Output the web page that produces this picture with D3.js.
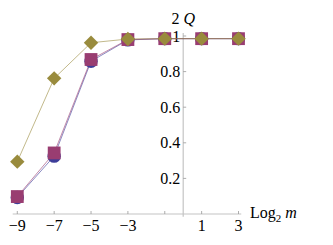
<!DOCTYPE html>
<html><head><meta charset="utf-8">
<script src="https://cdn.jsdelivr.net/npm/d3@7"></script>
<style>body{margin:0;background:#fff}svg{display:block}</style>
</head><body><svg id="c" width="333" height="245"></svg>
<script>
const xs = [-9, -7, -5, -3, -1, 1, 3];
const circles = [0.093, 0.325, 0.858, 0.978, 0.985, 0.985, 0.985];
const squares = [0.098, 0.343, 0.868, 0.980, 0.985, 0.985, 0.985];
const diamonds = [0.294, 0.762, 0.962, 0.983, 0.985, 0.985, 0.985];
const xTicks = [-9, -7, -5, -3, -1, 1, 3];
const xLabels = ["\u22129", "\u22127", "\u22125", "\u22123", "", "1", "3"];
const yTicks = [0.2, 0.4, 0.6, 0.8, 1];
const yLabels = ["0.2", "0.4", "0.6", "0.8", "1"];

const svg = d3.select("#c");
const x = d3.scaleLinear().domain([-9, 3]).range([17.3, 238.5]);
const y = d3.scaleLinear().domain([0, 1]).range([214, 36]);
const axisCol = "#c4c4c4";

function txt(px, py, anchor, size) {
  return svg.append("text").attr("x", px).attr("y", py).attr("text-anchor", anchor)
    .attr("font-family", "Liberation Serif").attr("font-size", size).attr("fill", "#000");
}

svg.append("line").attr("x1", x(-9.25)).attr("x2", x(3.15)).attr("y1", y(0)).attr("y2", y(0)).attr("stroke", axisCol).attr("stroke-width", 1.2);
svg.append("line").attr("x1", x(0)).attr("x2", x(0)).attr("y1", y(-0.015)).attr("y2", y(1.017)).attr("stroke", axisCol).attr("stroke-width", 1.2);
xTicks.forEach((t, i) => {
  svg.append("line").attr("x1", x(t)).attr("x2", x(t)).attr("y1", y(0)).attr("y2", y(0) - 3).attr("stroke", "#999").attr("stroke-width", 0.8);
  if (xLabels[i]) txt(x(t), 231, "middle", 16).text(xLabels[i]);
});
yTicks.forEach((t, i) => {
  svg.append("line").attr("x1", x(0)).attr("x2", x(0) + 3).attr("y1", y(t)).attr("y2", y(t)).attr("stroke", "#999").attr("stroke-width", 0.8);
  txt(x(0) - 3, y(t) + 5.5, "end", 16).text(yLabels[i]);
});
const ql = txt(x(0), 24, "middle", 16);
ql.append("tspan").text("2 ");
ql.append("tspan").attr("font-style", "italic").text("Q");
const xl = txt(250, 218, "start", 16);
xl.append("tspan").text("Log");
xl.append("tspan").attr("font-size", 11).attr("dy", 4).text("2");
xl.append("tspan").attr("dy", -4).text(" ");
xl.append("tspan").attr("font-style", "italic").text("m");

const cBlue = "#3d3d99", cMag = "#993d71", cOl = "#998b3d";
const line = d3.line().x((d, i) => x(xs[i])).y(d => y(d));
[[circles, cBlue], [squares, cMag], [diamonds, cOl]].forEach(([s, c]) => {
  svg.append("path").attr("d", line(s)).attr("fill", "none").attr("stroke", c).attr("stroke-opacity", 0.6).attr("stroke-width", 1);
});
svg.selectAll(".ci").data(circles).enter().append("circle").attr("cx", (d, i) => x(xs[i])).attr("cy", d => y(d)).attr("r", 6.7).attr("fill", cBlue);
svg.selectAll(".sq").data(squares).enter().append("rect").attr("x", (d, i) => x(xs[i]) - 6.4).attr("y", d => y(d) - 6.4).attr("width", 12.8).attr("height", 12.8).attr("fill", cMag);
svg.selectAll(".di").data(diamonds).enter().append("path").attr("d", (d, i) => {
  const cx = x(xs[i]), cy = y(d), r = 7.2;
  return `M${cx},${cy - r}L${cx + r},${cy}L${cx},${cy + r}L${cx - r},${cy}Z`;
}).attr("fill", cOl);
</script></body></html>
